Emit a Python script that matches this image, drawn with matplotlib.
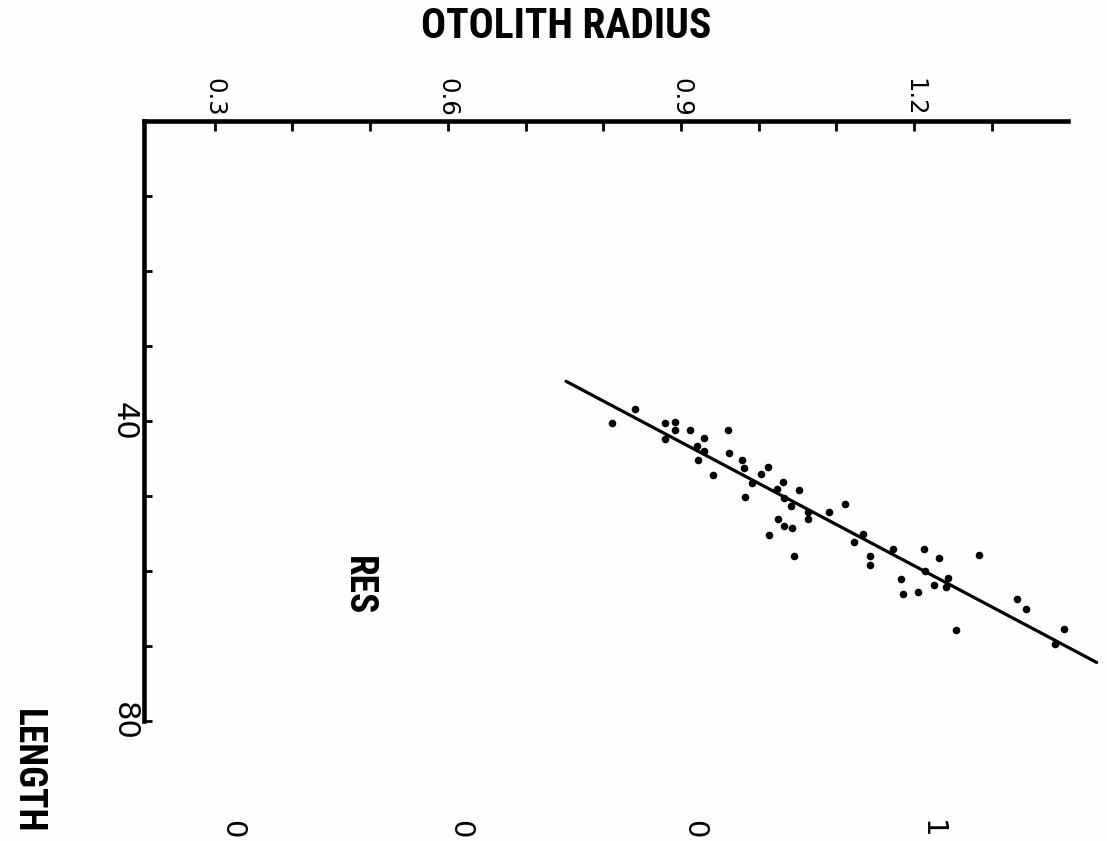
import matplotlib
matplotlib.use("Agg")
import matplotlib.pyplot as plt
import numpy as np

# otolith radius (top axis) vs fish length (left axis, increasing downward)
radius = [0.811, 0.841, 0.880, 0.892, 0.892, 0.912, 0.879, 0.930, 0.920, 0.930,
          0.922, 0.941, 0.961, 0.962, 0.979, 0.981, 1.012, 1.003, 0.991, 0.982,
          1.031, 1.024, 1.052, 1.032, 1.041, 1.064, 1.064, 1.025, 1.033, 1.043,
          1.013, 1.046, 1.091, 1.111, 1.134, 1.122, 1.143, 1.143, 1.173, 1.213,
          1.232, 1.284, 1.214, 1.183, 1.186, 1.205, 1.225, 1.243, 1.241, 1.254,
          1.332, 1.344, 1.393, 1.381]
length = [40.3, 38.4, 40.3, 40.1, 41.2, 41.2, 42.4, 42.2, 43.3, 44.0,
          45.2, 47.2, 41.2, 44.2, 45.2, 46.2, 46.1, 47.1, 48.3, 50.1,
          48.1, 49.1, 49.2, 50.2, 51.3, 52.1, 53.1, 53.1, 54.0, 54.2,
          55.2, 58.0, 52.1, 51.1, 55.1, 56.1, 58.0, 59.2, 57.0, 57.0,
          58.2, 57.8, 60.0, 61.1, 63.0, 62.8, 61.8, 60.9, 62.1, 67.9,
          63.7, 65.0, 67.7, 69.7]

# fitted regression line, end points
fit_radius = [0.752, 1.435]
fit_length = [34.7, 72.2]

x_ticks = np.arange(0.3, 1.31, 0.1)
x_labels = ["0.3", "", "", "0.6", "", "", "0.9", "", "", "1.2", ""]
y_ticks = np.arange(0, 81, 10)
y_labels = ["", "", "", "", "40", "", "", "", "80"]
cut_labels = ["0", "0", "0", "1"]   # tick labels of the next panel, cut by the page edge

bold_font = ["Roboto Condensed", "DejaVu Sans"]
num_font = "DejaVu Sans"
bg = "#fdfdfd"

W, H = 1107, 841
fig = plt.figure(figsize=(W / 100, H / 100), dpi=100, facecolor=bg)
ax = fig.add_axes([144 / W, 1 - 721 / H, (1068 - 144) / W, 600 / H], facecolor=bg)

ax.scatter(radius, length, s=30, color="black", linewidths=0, zorder=3)
ax.plot(fit_radius, fit_length, color="black", lw=2.3, clip_on=False,
        solid_capstyle="round")

ax.set_xlim(0.209, 1.398)
ax.set_ylim(80, 0)

for side in ["right", "bottom"]:
    ax.spines[side].set_visible(False)
for side in ["top", "left"]:
    ax.spines[side].set_linewidth(3.3)
    ax.spines[side].set_capstyle("projecting")

ax.xaxis.tick_top()
ax.set_xticks(x_ticks)
ax.set_xticklabels(x_labels, rotation=-90, fontsize=17.5, family=num_font)
ax.set_yticks(y_ticks)
ax.set_yticklabels(y_labels, rotation=-90, va="center", fontsize=22, family=num_font)
ax.tick_params(axis="x", direction="in", length=7, width=2, pad=3)
ax.tick_params(axis="y", direction="in", length=6, width=2, pad=4)

fig.text(566 / W, 1 - 27 / H, "OTOLITH RADIUS", ha="center", va="center",
         fontsize=30, fontweight="bold", family=bold_font)
fig.text(27 / W, 1 - 771 / H, "LENGTH", ha="center", va="center", rotation=-90,
         fontsize=27, fontweight="bold", family=bold_font)
fig.text(358 / W, 1 - 586 / H, "RES", ha="center", va="center",
         rotation=-90, fontsize=27, fontweight="bold", family=bold_font)

for lab, xp in zip(cut_labels, [232, 460, 694, 932]):
    fig.text(xp / W, 1 - 820 / H, lab, ha="center", va="top", rotation=-90,
             fontsize=21, family=num_font)

fig.savefig("out.png", dpi=100, facecolor=bg)
